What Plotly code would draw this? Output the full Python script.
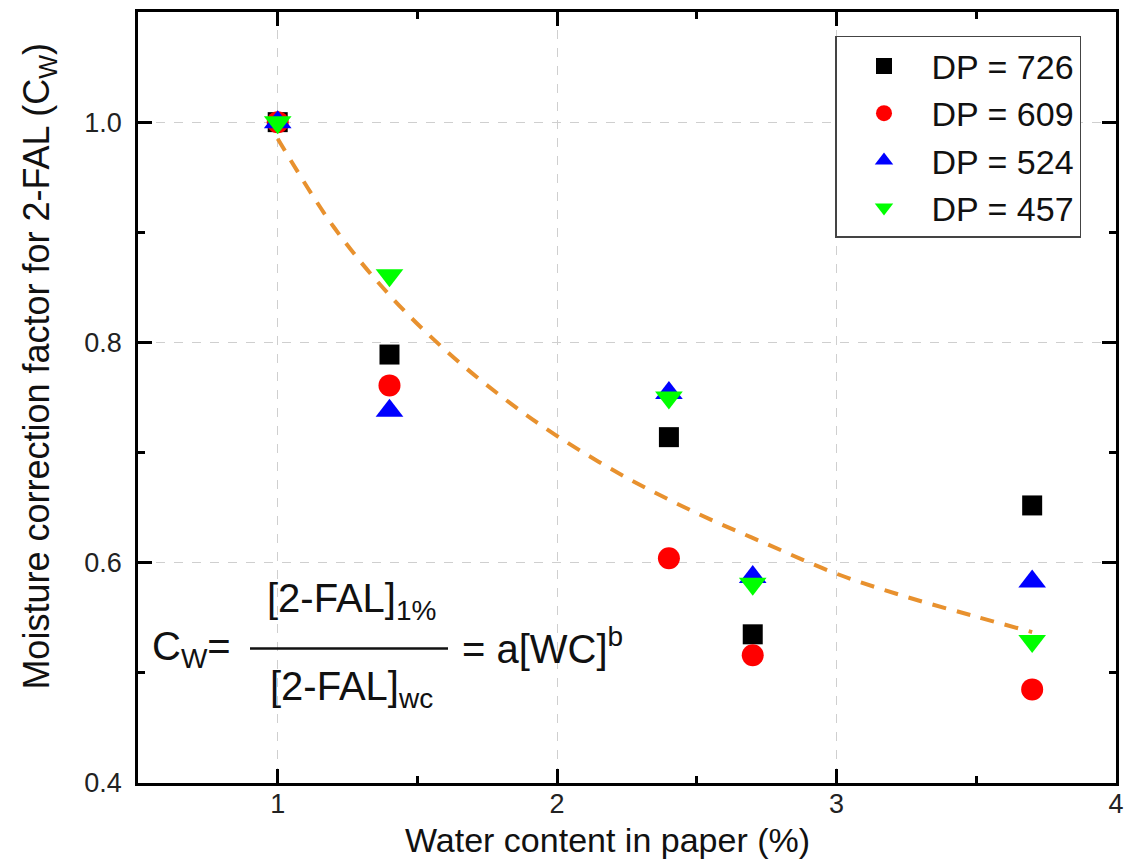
import plotly.graph_objects as go

# ---- data ----
water_content = [1.0, 1.4, 2.4, 2.7, 3.7]
dp726 = [1.0, 0.789, 0.714, 0.535, 0.652]
dp609 = [1.0, 0.761, 0.604, 0.516, 0.485]
dp524 = [1.0, 0.738, 0.754, 0.587, 0.583]
dp457 = [1.0, 0.861, 0.750, 0.581, 0.529]

fit_x = [1.0, 1.2, 1.4, 1.6, 1.8, 2.0, 2.25, 2.5, 2.75, 3.0, 3.25, 3.5, 3.7]
fit_y = [0.985, 0.905, 0.843, 0.793, 0.751, 0.715, 0.677, 0.645, 0.617, 0.590, 0.569, 0.551, 0.537]

x_ticks = [1, 2, 3, 4]
y_ticks = [0.4, 0.6, 0.8, 1.0]
y_tick_text = ["0.4", "0.6", "0.8", "1.0"]

FONT = "Arial, Liberation Sans, sans-serif"

# The page body has an 8px margin; geometry below is in figure pixels.
OFF = 8
W, H = 1136 - OFF, 862 - OFF
L, R, T, B = 138 - OFF, 1116 - OFF, 1, 783 - OFF

def px(xs):  # screen x -> paper x
    return (xs - OFF - L) / (R - L)

def py(ys):  # screen y -> paper y
    return (B - (ys - OFF)) / (B - T)

fig = go.Figure()

fig.add_trace(go.Scatter(
    x=fit_x, y=fit_y, mode="lines", showlegend=False,
    line=dict(color="#E8912E", width=4, dash="14px,11px"),
    line_shape="spline", hoverinfo="skip"))

series = [
    ("DP = 726", dp726, "square", "#000000", 20),
    ("DP = 609", dp609, "circle", "#FF0000", 22),
    ("DP = 524", dp524, "triangle-up", "#0000FF", 24),
    ("DP = 457", dp457, "triangle-down", "#00FF00", 24),
]
for name, ys, sym, col, size in series:
    fig.add_trace(go.Scatter(
        x=water_content, y=ys, mode="markers", name=name,
        marker=dict(symbol=sym, color=col, size=size, line=dict(width=0))))

axis_common = dict(
    showline=True, linecolor="black", linewidth=2.5, mirror="ticks",
    ticks="inside", ticklen=14, tickwidth=2.5, tickcolor="black",
    showgrid=True, gridcolor="#CFCFCF", griddash="dash", gridwidth=1,
    zeroline=False, tickfont=dict(family=FONT, size=27, color="#222222"),
)

fig.update_xaxes(range=[0.5, 4.0], tickvals=x_ticks,
                 minor=dict(ticks="inside", ticklen=7, tickwidth=2.5,
                            tickcolor="black", dtick=0.5, tick0=0.5, showgrid=False),
                 ticklabelstandoff=-5, **axis_common)
fig.update_yaxes(range=[0.4, 1.1], tickvals=y_ticks, ticktext=y_tick_text,
                 minor=dict(ticks="inside", ticklen=7, tickwidth=2.5,
                            tickcolor="black", dtick=0.1, tick0=0.4, showgrid=False),
                 ticklabelstandoff=8, **axis_common)

eq_font = dict(family=FONT, size=40, color="#111111")
annotations = [
    dict(text="Moisture correction factor for 2-FAL (C<sub>W</sub>)",
         x=px(39), y=py(365), textangle=-90,
         font=dict(family=FONT, size=36, color="#111111")),
    dict(text="Water content in paper (%)", x=px(607), y=py(840),
         font=dict(family=FONT, size=34, color="#111111")),
    dict(text="C<sub>W</sub>=", x=px(150), y=py(648), xanchor="left", font=eq_font),
    dict(text="[2-FAL]<sub>1%</sub>", x=px(351), y=py(600), font=eq_font),
    dict(text="[2-FAL]<sub>wc</sub>", x=px(351), y=py(689), font=eq_font),
    dict(text="= a[WC]<sup>b</sup>", x=px(460), y=py(645), xanchor="left", font=eq_font),
]
for a in annotations:
    a.update(xref="paper", yref="paper", showarrow=False)
    a.setdefault("xanchor", "center")
    a.setdefault("yanchor", "middle")

fig.update_layout(
    width=W, height=H,
    margin=dict(l=L, r=W - R, t=T, b=H - B),
    plot_bgcolor="white", paper_bgcolor="white",
    annotations=annotations,
    shapes=[dict(type="line", xref="paper", yref="paper",
                 x0=px(250), x1=px(448), y0=py(648), y1=py(648),
                 line=dict(color="#111111", width=2.5))],
    legend=dict(x=px(835), y=py(33), xanchor="left", yanchor="top",
                bgcolor="white", bordercolor="#444444", borderwidth=1.5,
                font=dict(family=FONT, size=34, color="#111111"),
                itemwidth=85, tracegroupgap=0),
)

fig.write_html("out.html")
